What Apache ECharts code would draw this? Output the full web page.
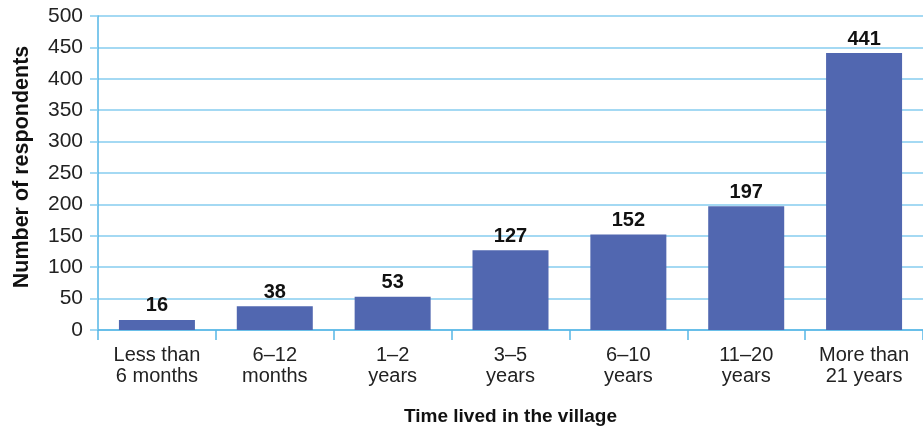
<!DOCTYPE html>
<html>
<head>
<meta charset="utf-8">
<script src="https://cdn.jsdelivr.net/npm/echarts@6/dist/echarts.min.js"></script>
<style>
  html, body { margin: 0; padding: 0; background: #fff; }
  #chart { width: 923px; height: 431px; }
</style>
</head>
<body>
<div id="chart"></div>
<script>
// Residence duration categories and respondent counts
const categories = [
  'Less than\n6 months',
  '6–12\nmonths',
  '1–2\nyears',
  '3–5\nyears',
  '6–10\nyears',
  '11–20\nyears',
  'More than\n21 years'
];
const respondents = [16, 38, 53, 127, 152, 197, 441];
const yTicks = { min: 0, max: 500, step: 50 };

const font = 'Liberation Sans, Arial, Helvetica, sans-serif';
const axisBlue = '#55b6e6';
const gridBlue = '#86cdef';

const chart = echarts.init(document.getElementById('chart'), null, { renderer: 'canvas' });
chart.setOption({
  animation: false,
  grid: {
    left: 98, right: 0, top: 16, bottom: 101,
    containLabel: false,
    outerBoundsMode: 'none'
  },
  xAxis: {
    type: 'category',
    data: categories,
    name: 'Time lived in the village',
    nameLocation: 'middle',
    nameGap: 77,
    nameTextStyle: { fontFamily: font, fontSize: 19, fontWeight: 'bold', color: '#111' },
    axisLine: { show: true, lineStyle: { color: axisBlue, width: 1.5 } },
    axisTick: { show: true, interval: 0, length: 10, lineStyle: { color: axisBlue, width: 1.5 } },
    axisLabel: {
      interval: 0,
      margin: 15,
      fontFamily: font,
      fontSize: 20,
      lineHeight: 21,
      color: '#222'
    }
  },
  yAxis: {
    type: 'value',
    min: yTicks.min,
    max: yTicks.max,
    interval: yTicks.step,
    name: 'Number of respondents',
    nameLocation: 'middle',
    nameGap: 65,
    nameTextStyle: {
      fontFamily: font, fontSize: 21.5, fontWeight: 'bold', color: '#111',
      padding: [0, 0, 0, 12]
    },
    axisLine: { show: true, lineStyle: { color: axisBlue, width: 1.5 } },
    axisTick: { show: true, length: 8, lineStyle: { color: gridBlue, width: 1.5 } },
    splitLine: { show: true, lineStyle: { color: gridBlue, width: 1.5 } },
    axisLabel: {
      margin: 15,
      fontFamily: font,
      fontSize: 21,
      color: '#222'
    }
  },
  series: [{
    type: 'bar',
    data: respondents,
    barWidth: 76,
    itemStyle: { color: '#5167b0' },
    label: {
      show: true,
      position: 'top',
      distance: 4,
      fontFamily: font,
      fontSize: 20,
      fontWeight: 'bold',
      color: '#111'
    }
  }]
});
</script>
</body>
</html>
